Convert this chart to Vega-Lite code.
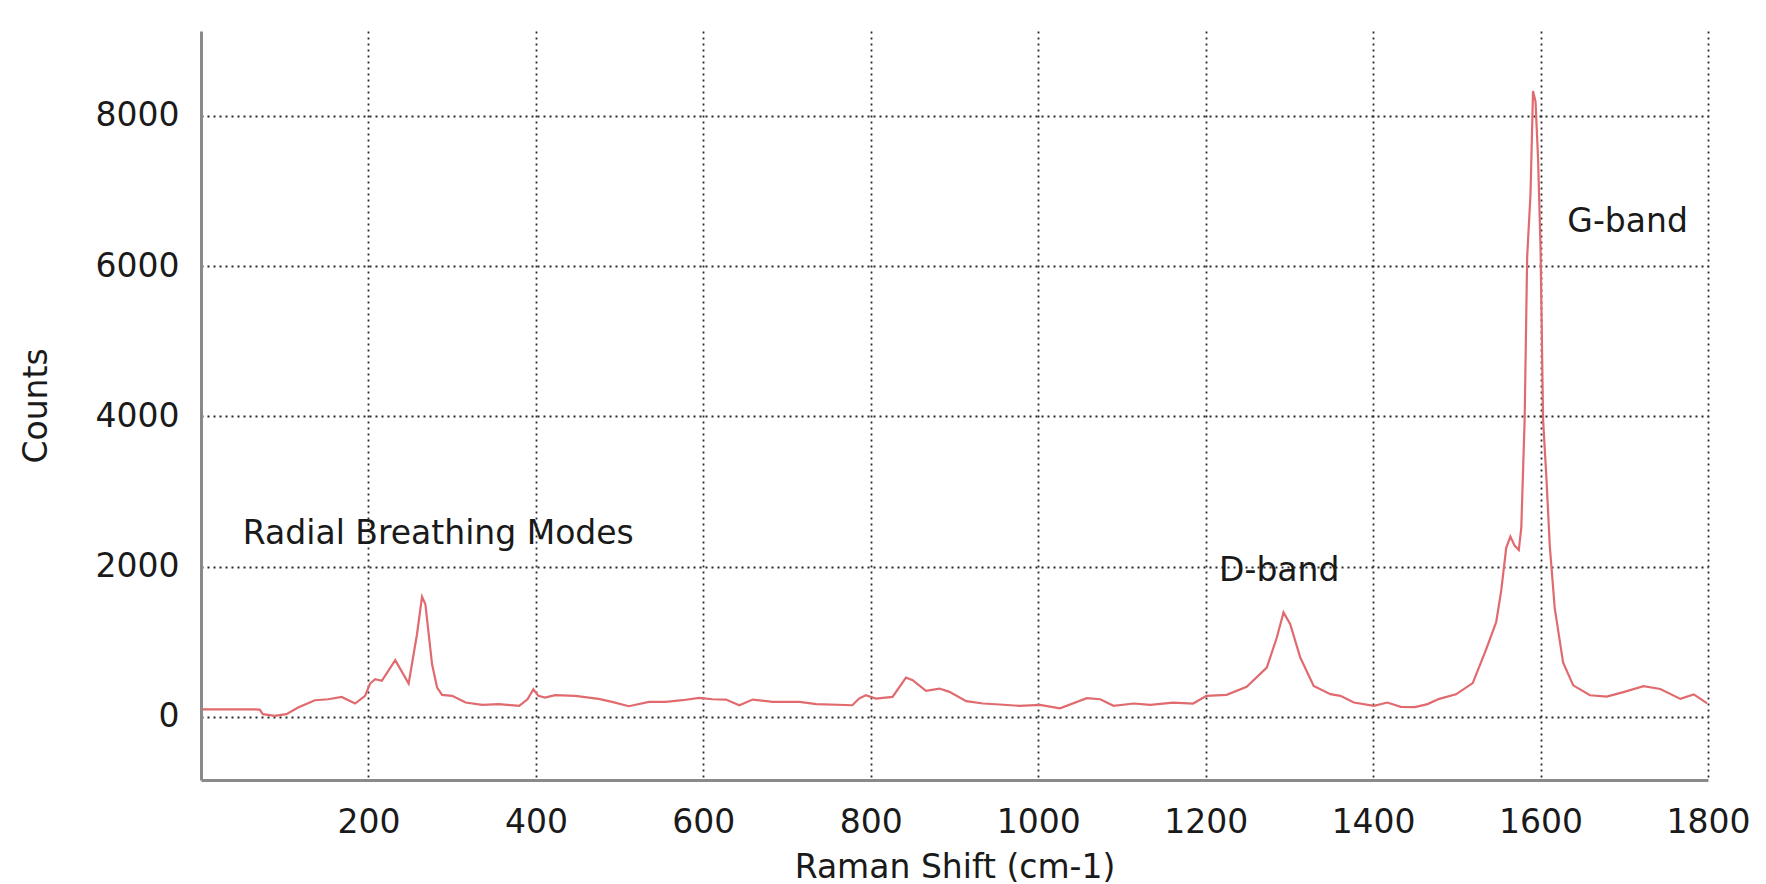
{
  "$schema": "https://vega.github.io/schema/vega-lite/v6.json",
  "autosize": {"type": "none"},
  "width": 1507,
  "height": 749,
  "padding": {"left": 201, "top": 31, "right": 58, "bottom": 104},
  "background": "white",
  "config": {
    "view": {"stroke": null},
    "font": "DejaVu Sans",
    "axis": {
      "labelFont": "DejaVu Sans",
      "titleFont": "DejaVu Sans",
      "labelFontSize": 33,
      "titleFontSize": 33,
      "labelColor": "#1a1a1a",
      "titleColor": "#1a1a1a",
      "titleFontWeight": "normal",
      "ticks": false,
      "domainColor": "#8a8a8a",
      "domainWidth": 3,
      "gridColor": "#2a2a2a",
      "gridDash": [2, 4],
      "gridWidth": 1.8,
      "gridOpacity": 1,
      "format": "d"
    }
  },
  "datasets": {
    "spectrum": [
      {"shift": 2, "counts": 100}, {"shift": 30, "counts": 100}, {"shift": 60, "counts": 100}, {"shift": 70, "counts": 98},
      {"shift": 74, "counts": 36}, {"shift": 88, "counts": 13}, {"shift": 102, "counts": 36}, {"shift": 116, "counts": 124},
      {"shift": 136, "counts": 222}, {"shift": 152, "counts": 235}, {"shift": 168, "counts": 266}, {"shift": 184, "counts": 178},
      {"shift": 196, "counts": 280}, {"shift": 202, "counts": 444}, {"shift": 208, "counts": 502}, {"shift": 216, "counts": 480},
      {"shift": 232, "counts": 755}, {"shift": 248, "counts": 444}, {"shift": 258, "counts": 1100}, {"shift": 264, "counts": 1600},
      {"shift": 268, "counts": 1500}, {"shift": 276, "counts": 700}, {"shift": 282, "counts": 391}, {"shift": 288, "counts": 293}, {"shift": 300, "counts": 280},
      {"shift": 316, "counts": 191}, {"shift": 336, "counts": 160}, {"shift": 356, "counts": 169}, {"shift": 380, "counts": 147},
      {"shift": 390, "counts": 235}, {"shift": 397, "counts": 368}, {"shift": 403, "counts": 280}, {"shift": 411, "counts": 258},
      {"shift": 423, "counts": 289}, {"shift": 447, "counts": 280}, {"shift": 475, "counts": 240}, {"shift": 491, "counts": 200},
      {"shift": 511, "counts": 142}, {"shift": 535, "counts": 200}, {"shift": 555, "counts": 200}, {"shift": 575, "counts": 222},
      {"shift": 595, "counts": 253}, {"shift": 611, "counts": 235}, {"shift": 627, "counts": 231}, {"shift": 643, "counts": 155},
      {"shift": 659, "counts": 231}, {"shift": 683, "counts": 200}, {"shift": 715, "counts": 200}, {"shift": 735, "counts": 169},
      {"shift": 778, "counts": 155}, {"shift": 786, "counts": 244}, {"shift": 794, "counts": 289}, {"shift": 806, "counts": 244},
      {"shift": 826, "counts": 266}, {"shift": 842, "counts": 524}, {"shift": 850, "counts": 488}, {"shift": 866, "counts": 346},
      {"shift": 882, "counts": 377}, {"shift": 894, "counts": 333}, {"shift": 914, "counts": 209}, {"shift": 934, "counts": 178},
      {"shift": 954, "counts": 165}, {"shift": 978, "counts": 147}, {"shift": 1002, "counts": 160}, {"shift": 1026, "counts": 115},
      {"shift": 1058, "counts": 249}, {"shift": 1074, "counts": 235}, {"shift": 1090, "counts": 147}, {"shift": 1114, "counts": 178},
      {"shift": 1134, "counts": 160}, {"shift": 1161, "counts": 191}, {"shift": 1185, "counts": 178}, {"shift": 1201, "counts": 280},
      {"shift": 1225, "counts": 293}, {"shift": 1249, "counts": 400}, {"shift": 1273, "counts": 657}, {"shift": 1285, "counts": 1057},
      {"shift": 1293, "counts": 1390}, {"shift": 1301, "counts": 1234}, {"shift": 1313, "counts": 790}, {"shift": 1329, "counts": 413},
      {"shift": 1349, "counts": 302}, {"shift": 1361, "counts": 280}, {"shift": 1377, "counts": 191}, {"shift": 1401, "counts": 147},
      {"shift": 1417, "counts": 191}, {"shift": 1433, "counts": 133}, {"shift": 1450, "counts": 130}, {"shift": 1465, "counts": 170},
      {"shift": 1479, "counts": 240}, {"shift": 1499, "counts": 300}, {"shift": 1519, "counts": 450}, {"shift": 1535, "counts": 900},
      {"shift": 1547, "counts": 1260}, {"shift": 1553, "counts": 1680}, {"shift": 1559, "counts": 2250}, {"shift": 1564, "counts": 2400},
      {"shift": 1569, "counts": 2280}, {"shift": 1574, "counts": 2220}, {"shift": 1577, "counts": 2520}, {"shift": 1581, "counts": 3960},
      {"shift": 1584, "counts": 6120}, {"shift": 1588, "counts": 6960}, {"shift": 1591, "counts": 8330}, {"shift": 1594, "counts": 8190},
      {"shift": 1597, "counts": 7440}, {"shift": 1600, "counts": 6240}, {"shift": 1603, "counts": 3960}, {"shift": 1607, "counts": 3180},
      {"shift": 1611, "counts": 2280}, {"shift": 1617, "counts": 1440}, {"shift": 1627, "counts": 720}, {"shift": 1639, "counts": 420},
      {"shift": 1659, "counts": 288}, {"shift": 1679, "counts": 270}, {"shift": 1699, "counts": 330}, {"shift": 1723, "counts": 408},
      {"shift": 1743, "counts": 372}, {"shift": 1767, "counts": 240}, {"shift": 1783, "counts": 300}, {"shift": 1799, "counts": 180}
    ],
    "labels": [
      {"label": "Radial Breathing Modes", "shift": 50, "counts": 2440},
      {"label": "D-band", "shift": 1216, "counts": 1944},
      {"label": "G-band", "shift": 1632, "counts": 6591}
    ]
  },
  "layer": [
    {
      "data": {"name": "spectrum"},
      "mark": {"type": "line", "color": "#e06a6e", "strokeWidth": 2.2, "clip": true},
      "encoding": {
        "x": {
          "field": "shift", "type": "quantitative",
          "scale": {"domain": [0, 1800], "nice": false, "zero": false},
          "axis": {"title": "Raman Shift (cm-1)", "values": [200, 400, 600, 800, 1000, 1200, 1400, 1600, 1800], "labelPadding": 26, "titlePadding": 12, "labelFlush": false}
        },
        "y": {
          "field": "counts", "type": "quantitative",
          "scale": {"domain": [-840, 9130], "nice": false, "zero": false},
          "axis": {"title": "Counts", "values": [0, 2000, 4000, 6000, 8000], "labelPadding": 22, "titlePadding": 42, "labelFlush": false}
        }
      }
    },
    {
      "data": {"name": "labels"},
      "mark": {"type": "text", "align": "left", "baseline": "middle", "fontSize": 33, "font": "DejaVu Sans", "color": "#1a1a1a"},
      "encoding": {
        "x": {"field": "shift", "type": "quantitative"},
        "y": {"field": "counts", "type": "quantitative"},
        "text": {"field": "label"}
      }
    }
  ]
}
